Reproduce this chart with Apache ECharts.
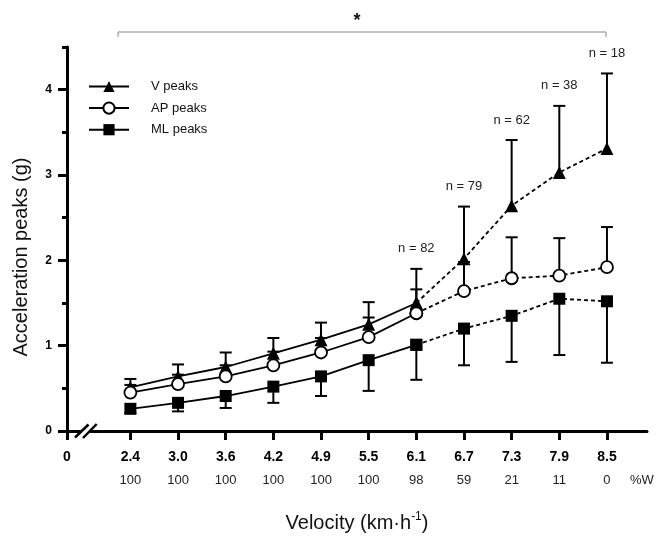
<!DOCTYPE html>
<html>
<head>
<meta charset="utf-8">
<script src="https://cdn.jsdelivr.net/npm/echarts@6/dist/echarts.min.js"></script>
<style>html,body{margin:0;padding:0;background:#fff}#c{width:662px;height:541px}</style>
</head>
<body>
<div id="c"></div>
<script>
var velocities = ['2.4','3.0','3.6','4.2','4.9','5.5','6.1','6.7','7.3','7.9','8.5'];
var pctW = ['100','100','100','100','100','100','98','59','21','11','0'];
var vPeaks   = [0.51, 0.64, 0.75, 0.91, 1.07, 1.25, 1.50, 2.02, 2.64, 3.03, 3.31];
var vErrTop  = [0.61, 0.78, 0.92, 1.09, 1.27, 1.51, 1.90, 2.63, 3.41, 3.81, 4.19];
var apPeaks  = [0.45, 0.55, 0.64, 0.77, 0.92, 1.10, 1.38, 1.64, 1.79, 1.82, 1.92];
var apErrTop = [0.54, 0.66, 0.77, 0.93, 1.09, 1.33, 1.66, 1.98, 2.27, 2.26, 2.39];
var mlPeaks  = [0.26, 0.33, 0.41, 0.52, 0.64, 0.83, 1.01, 1.20, 1.35, 1.55, 1.52];
var mlErrBot = [0.21, 0.23, 0.27, 0.33, 0.41, 0.47, 0.60, 0.77, 0.81, 0.89, 0.80];
var nLabels  = ['', '', '', '', '', '', 'n = 82', 'n = 79', 'n = 62', 'n = 38', 'n = 18'];
var yTicks = [0, 1, 2, 3, 4];
var yMinorTicks = [0.5, 1.5, 2.5, 3.5, 4.5];

var FONT = "'Liberation Sans', Arial, sans-serif";
var X_ORIGIN = -1.33;
var splitAt = 6;

function pts(arr, from, to) {
  var out = [];
  for (var i = from; i <= to; i++) out.push([i, arr[i]]);
  return out;
}
function errData(base, end) {
  return base.map(function (b, i) { return [i, b, end[i]]; });
}
var xIdx = velocities.map(function (_, i) { return i; });

function errRender(params, api) {
  var x = api.value(0);
  var p1 = api.coord([x, api.value(1)]);
  var p2 = api.coord([x, api.value(2)]);
  var st = { stroke: '#000', lineWidth: 2 };
  return {
    type: 'group',
    children: [
      { type: 'line', shape: { x1: p1[0], y1: p1[1], x2: p2[0], y2: p2[1] }, style: st },
      { type: 'line', shape: { x1: p2[0] - 6, y1: p2[1], x2: p2[0] + 6, y2: p2[1] }, style: st }
    ]
  };
}

var lineBase = function (name, symbol, size, dashed, data, emptyFill) {
  return {
    name: name, type: 'line', data: data, z: 3,
    symbol: symbol, symbolSize: size,
    lineStyle: { color: '#000', width: 1.8, type: dashed ? [4, 3] : 'solid' },
    itemStyle: emptyFill ? { color: '#fff', borderColor: '#000', borderWidth: 1.8 } : { color: '#000' },
    emphasis: { disabled: true },
    animation: false
  };
};

var chart = echarts.init(document.getElementById('c'), null, { renderer: 'canvas' });
chart.setOption({
  animation: false,
  textStyle: { fontFamily: FONT },
  grid: { left: 67, right: 15, top: 47, bottom: 110 },
  legend: {
    orient: 'vertical', left: 88, top: 80, padding: 0,
    itemWidth: 40, itemHeight: 14, itemGap: 8.5,
    data: ['V peaks', 'AP peaks', 'ML peaks'],
    textStyle: { fontSize: 13, color: '#111', fontFamily: FONT, padding: [0, 0, 0, 17] },
    selectedMode: false
  },
  xAxis: {
    type: 'value', min: X_ORIGIN, max: 10.84,
    splitLine: { show: false },
    axisLine: { onZero: false, lineStyle: { color: '#000', width: 3 } },
    axisTick: { show: true, length: 9, lineStyle: { width: 3, color: '#000' },
      customValues: [X_ORIGIN].concat(xIdx) },
    axisLabel: {
      customValues: [X_ORIGIN].concat(xIdx),
      margin: 16,
      formatter: function (v) {
        if (v < 0) return '{a|0}';
        var i = Math.round(v);
        return '{a|' + velocities[i] + '}\n{b|' + pctW[i] + '}';
      },
      rich: {
        a: { fontSize: 14, fontWeight: 'bold', color: '#000', lineHeight: 20, fontFamily: FONT },
        b: { fontSize: 13, color: '#222', lineHeight: 26, fontFamily: FONT }
      }
    },
    name: '{n|Velocity (km·h}{s|-1}{n|)}',
    nameLocation: 'middle', nameGap: 80,
    nameTextStyle: {
      rich: {
        n: { fontSize: 20, color: '#111', fontFamily: FONT, lineHeight: 24 },
        s: { fontSize: 12, color: '#111', fontFamily: FONT, verticalAlign: 'top', lineHeight: 24 }
      }
    }
  },
  yAxis: [{
    type: 'value', min: 0, max: 4.5,
    splitLine: { show: false },
    axisLine: { onZero: false, lineStyle: { color: '#000', width: 3 } },
    axisTick: { length: 9, lineStyle: { width: 3, color: '#000' }, customValues: yTicks },
    axisLabel: { customValues: yTicks, margin: 15, fontSize: 12, fontWeight: 'bold', color: '#000', fontFamily: FONT },
    name: 'Acceleration peaks (g)', nameLocation: 'middle', nameGap: 36,
    nameTextStyle: { fontSize: 20, color: '#111', fontFamily: FONT, padding: [0, 36, 0, 0] }
  }, {
    type: 'value', min: 0, max: 4.5, position: 'left',
    splitLine: { show: false },
    axisLine: { show: false, onZero: false },
    axisTick: { length: 5, lineStyle: { width: 3, color: '#000' }, customValues: yMinorTicks },
    axisLabel: { show: false }
  }],
  series: [
    { type: 'custom', name: 'errV', z: 1, data: errData(vPeaks, vErrTop), renderItem: errRender, encode: { x: 0, y: [1, 2] } },
    { type: 'custom', name: 'errAP', z: 1, data: errData(apPeaks, apErrTop), renderItem: errRender, encode: { x: 0, y: [1, 2] } },
    { type: 'custom', name: 'errML', z: 1, data: errData(mlPeaks, mlErrBot), renderItem: errRender, encode: { x: 0, y: [1, 2] } },
    {
      type: 'custom', name: 'nlab', z: 4,
      data: vErrTop.map(function (v, i) { return [i, v]; }),
      encode: { x: 0, y: 1 },
      renderItem: function (params, api) {
        var i = api.value(0);
        var t = nLabels[i];
        if (!t) return null;
        var p = api.coord([i, api.value(1)]);
        return { type: 'text', style: { text: t, x: p[0], y: p[1] - 20, align: 'center', verticalAlign: 'middle',
          font: '13px ' + FONT, fill: '#222' } };
      }
    },
    lineBase('V peaks', 'triangle', 13, false, pts(vPeaks, 0, splitAt)),
    lineBase('AP peaks', 'circle', 12, false, pts(apPeaks, 0, splitAt), true),
    lineBase('ML peaks', 'rect', 12, false, pts(mlPeaks, 0, splitAt)),
    lineBase('V peaks', 'triangle', 13, true, pts(vPeaks, splitAt, velocities.length - 1)),
    lineBase('AP peaks', 'circle', 12, true, pts(apPeaks, splitAt, velocities.length - 1), true),
    lineBase('ML peaks', 'rect', 12, true, pts(mlPeaks, splitAt, velocities.length - 1))
  ],
  graphic: [
    { type: 'polygon', z: 100, shape: { points: [[75, 437], [83, 438], [96.7, 424], [88, 425]] }, style: { fill: '#fff' } },
    { type: 'line', z: 101, shape: { x1: 75, y1: 437.5, x2: 88.5, y2: 424.5 }, style: { stroke: '#000', lineWidth: 2.5 } },
    { type: 'line', z: 101, shape: { x1: 83, y1: 438, x2: 96.7, y2: 424 }, style: { stroke: '#000', lineWidth: 2.5 } },
    { type: 'polyline', z: 100, shape: { points: [[118, 37], [118, 32], [606, 32], [606, 37]] }, style: { stroke: '#888', lineWidth: 1, fill: null } },
    { type: 'text', z: 100, style: { text: '*', x: 357, y: 21, align: 'center', verticalAlign: 'middle', font: 'bold 18px ' + FONT, fill: '#111' } },
    { type: 'text', z: 100, style: { text: '%W', x: 630, y: 480, align: 'left', verticalAlign: 'middle', font: '13px ' + FONT, fill: '#222' } }
  ]
});
</script>
</body>
</html>
